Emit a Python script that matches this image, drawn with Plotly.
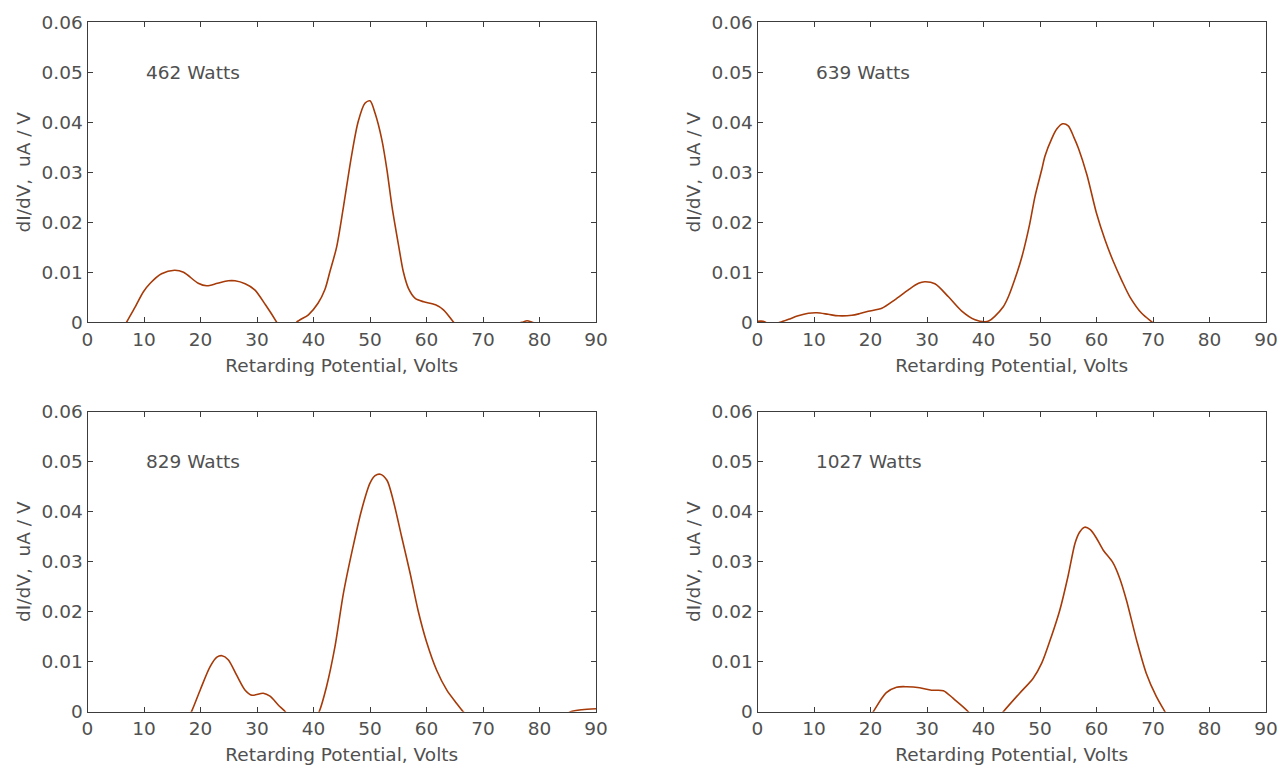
import plotly.graph_objects as go

# Retarding potential (V) and derivative signal dI/dV (uA/V) for each RF power level
v_462 = [0, 5.5, 6.9, 8.5, 9.9, 11.1, 13.1, 15.4, 17.0, 19.6, 21.1, 23.0, 24.9, 26.1, 27.9,
         29.6, 31.5, 33.5, 34.5, 36.0, 37.0, 39.1, 40.8, 42.0, 42.9, 44.1, 45.3, 46.7, 47.9,
         49.1, 50.0, 50.9, 52.1, 53.0, 53.9, 55.1, 55.9, 56.8, 58.0, 59.5, 61.6, 63.0, 64.8,
         66.0, 75.0, 76.9, 77.8, 78.7, 80.0, 90]
d_462 = [-0.003, -0.003, 0.0, 0.0032, 0.0061, 0.0078, 0.0097, 0.0104, 0.0100, 0.0078, 0.0073,
         0.0078, 0.0083, 0.0083, 0.0077, 0.0065, 0.0035, 0.0, -0.002, -0.002, 0.0, 0.0015,
         0.0038, 0.0065, 0.0101, 0.0151, 0.0231, 0.0331, 0.0401, 0.0438, 0.0443, 0.0418,
         0.0365, 0.0305, 0.0231, 0.0151, 0.0101, 0.0068, 0.0048, 0.0041, 0.0035, 0.0025,
         0.0, -0.002, -0.0005, 0.0, 0.0003, 0.0, -0.0005, -0.002]

v_639 = [0, 1.0, 2.5, 4.0, 5.5, 7.2, 9.0, 10.5, 12.5, 14.3, 16.7, 18.0, 19.6, 22.0, 24.3,
         26.7, 28.5, 29.6, 31.4, 33.8, 36.1, 38.5, 40.3, 41.0, 42.0, 43.5, 44.4, 45.9, 46.8,
         48.2, 49.1, 50.3, 50.9, 52.1, 53.0, 54.0, 55.0, 56.0, 56.8, 58.3, 60.0, 61.5, 63.0,
         64.5, 65.9, 68.0, 69.9, 71.0, 90]
d_639 = [0.0002, 0.0002, -0.0005, 0.0, 0.0006, 0.0013, 0.0018, 0.0019, 0.0016, 0.0013,
         0.0014, 0.0017, 0.0022, 0.0028, 0.0045, 0.0065, 0.0078, 0.0081, 0.0077, 0.0051,
         0.0023, 0.0005, 0.0001, 0.0003, 0.0012, 0.0031, 0.0051, 0.0098, 0.0131, 0.0198,
         0.0251, 0.0305, 0.0333, 0.0368, 0.0387, 0.0397, 0.0393, 0.0370, 0.0348, 0.0295,
         0.0218, 0.0165, 0.0121, 0.0083, 0.0051, 0.0018, 0.0, -0.001, -0.001]

v_829 = [0, 17.0, 18.4, 20.0, 21.7, 22.9, 23.8, 24.9, 26.4, 27.9, 29.1, 31.1, 32.3, 33.8,
         35.0, 36.0, 40.0, 41.0, 42.3, 43.8, 45.3, 47.0, 48.5, 50.0, 50.9, 51.8, 53.0, 54.1,
         55.6, 57.1, 58.5, 60.0, 61.8, 63.6, 65.3, 66.5, 67.5, 84.0, 85.5, 87.5, 90]
d_829 = [-0.003, -0.003, 0.0, 0.0045, 0.0090, 0.0109, 0.0112, 0.0104, 0.0073, 0.0043,
         0.0033, 0.0037, 0.0031, 0.0013, 0.0, -0.002, -0.002, 0.0, 0.0050, 0.0130, 0.0237,
         0.0330, 0.0403, 0.0457, 0.0472, 0.0475, 0.0463, 0.0423, 0.0350, 0.0277, 0.0203,
         0.0140, 0.0083, 0.0043, 0.0017, 0.0, -0.001, -0.001, 0.0, 0.0004, 0.0006]

v_1027 = [0, 19.0, 20.5, 22.8, 24.6, 26.4, 28.7, 30.8, 32.9, 34.6, 37.3, 38.5, 42.0, 43.5,
          46.4, 48.8, 50.3, 52.0, 53.5, 55.0, 56.2, 57.0, 57.9, 58.9, 60.0, 61.2, 62.9, 64.1,
          65.3, 67.1, 68.8, 70.6, 72.1, 73.0, 90]
d_1027 = [-0.003, -0.003, 0.0, 0.0038, 0.0049, 0.0050, 0.0048, 0.0043, 0.0042, 0.0027, 0.0,
          -0.002, -0.002, 0.0, 0.0037, 0.0067, 0.0097, 0.0150, 0.0203, 0.0273, 0.0337,
          0.0359, 0.0369, 0.0364, 0.0347, 0.0323, 0.0298, 0.0267, 0.0223, 0.0143, 0.0077,
          0.0030, 0.0, -0.002, -0.002]

panel_labels = ["462 Watts", "639 Watts", "829 Watts", "1027 Watts"]
x_ticks = [0, 10, 20, 30, 40, 50, 60, 70, 80, 90]
y_ticks = [0, 0.01, 0.02, 0.03, 0.04, 0.05, 0.06]
y_tick_text = ["0", "0.01", "0.02", "0.03", "0.04", "0.05", "0.06"]
x_title = "Retarding Potential, Volts"
y_title = "dI/dV,  uA / V"

series = [(v_462, d_462), (v_639, d_639), (v_829, d_829), (v_1027, d_1027)]

W, H = 1278, 767
x_domains = [[87.5 / W, 596 / W], [757.5 / W, 1266 / W]]
y_domains = [[1 - 322.3 / H, 1 - 22.3 / H], [1 - 711.7 / H, 1 - 411.7 / H]]

FONT = "'DejaVu Sans', sans-serif"
FS = 18.5
TXT = "#505050"
AX = "#3c3c3c"
LINE = "rgb(166,58,8)"

fig = go.Figure()
layout = dict(
    width=W, height=H,
    margin=dict(l=0, r=0, t=0, b=0, autoexpand=False),
    paper_bgcolor="white", plot_bgcolor="white",
    showlegend=False,
    font=dict(family=FONT, size=FS, color=TXT),
    annotations=[],
)

for i, (xv, yv) in enumerate(series):
    row, col = divmod(i, 2)
    n = "" if i == 0 else str(i + 1)
    xa, ya = "x" + n, "y" + n
    fig.add_trace(go.Scatter(x=xv, y=yv, mode="lines", xaxis=xa, yaxis=ya,
                             line=dict(color=LINE, width=1.6, shape="spline", smoothing=0.8),
                             hoverinfo="x+y"))
    layout["xaxis" + n] = dict(
        domain=x_domains[col], anchor=ya, range=[0, 90], automargin=False,
        tickmode="array", tickvals=x_ticks, ticktext=[str(t) for t in x_ticks],
        ticks="inside", ticklen=5, tickcolor=AX, tickwidth=1,
        showline=True, linecolor=AX, linewidth=1, mirror="ticks",
        showgrid=False, zeroline=False,
        tickfont=dict(family=FONT, size=FS, color=TXT),
        title=dict(text=x_title, font=dict(family=FONT, size=FS, color=TXT), standoff=10),
    )
    layout["yaxis" + n] = dict(
        domain=y_domains[row], anchor=xa, range=[0, 0.06], automargin=False,
        tickmode="array", tickvals=y_ticks, ticktext=y_tick_text,
        ticks="inside", ticklen=5, tickcolor=AX, tickwidth=1,
        showline=True, linecolor=AX, linewidth=1, mirror="ticks",
        showgrid=False, zeroline=False,
        tickfont=dict(family=FONT, size=FS, color=TXT),
        title=dict(text=y_title, font=dict(family=FONT, size=FS, color=TXT), standoff=6),
    )
    layout["annotations"].append(dict(
        x=10, y=0.05, xref=xa, yref=ya, text=panel_labels[i], showarrow=False,
        xanchor="left", yanchor="middle",
        font=dict(family=FONT, size=FS, color=TXT),
    ))

fig.update_layout(**layout)
fig.write_html("out.html")
